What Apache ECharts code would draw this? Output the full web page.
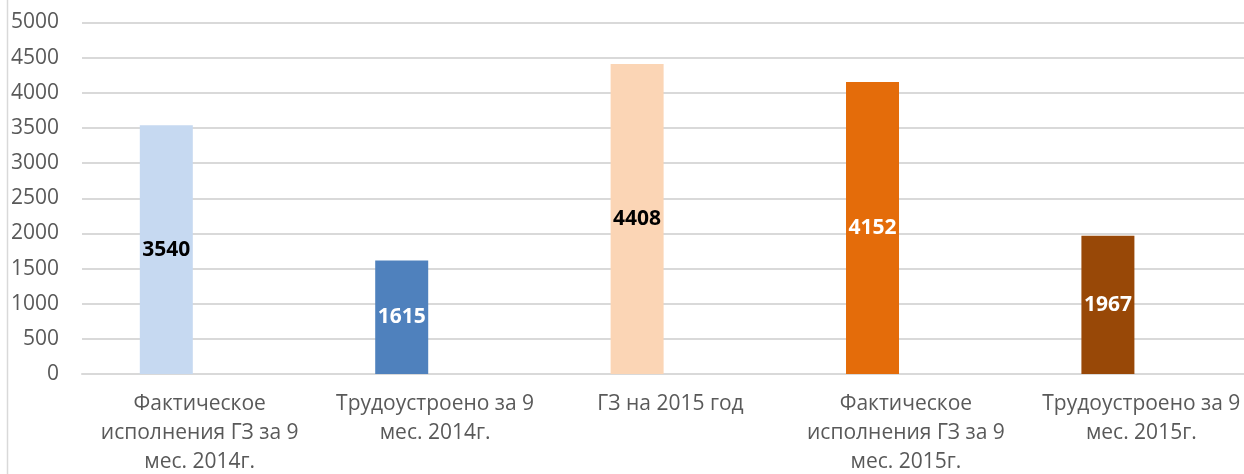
<!DOCTYPE html>
<html>
<head>
<meta charset="utf-8">
<script src="https://cdn.jsdelivr.net/npm/echarts@6/dist/echarts.min.js"></script>
<style>
html,body{margin:0;padding:0;background:#fff;}
#c{width:1244px;height:474px;}
</style>
</head>
<body>
<div id="c"></div>
<script>
const categories = [
  "Фактическое\nисполнения ГЗ за 9\nмес. 2014г.",
  "Трудоустроено за 9\nмес. 2014г.",
  "ГЗ на 2015 год",
  "Фактическое\nисполнения ГЗ за 9\nмес. 2015г.",
  "Трудоустроено за 9\nмес. 2015г."
];
const values = [3540, 1615, 4408, 4152, 1967];
const yTicks = { min: 0, max: 5000, interval: 500 };

const barColors = ["#C6D9F1", "#4F81BD", "#FBD5B5", "#E46C0A", "#984807"];
const labelColors = ["#000000", "#FFFFFF", "#000000", "#FFFFFF", "#FFFFFF"];
const FONT = "Open Sans";

const chart = echarts.init(document.getElementById('c'), null, { renderer: 'canvas' });
chart.setOption({
  animation: false,
  backgroundColor: '#FFFFFF',
  textStyle: { fontFamily: FONT },
  grid: { left: 82, top: 22.5, width: 1177, bottom: 100, containLabel: false, outerBoundsMode: 'none' },
  graphic: [{
    type: 'line',
    shape: { x1: 7.5, y1: 0, x2: 7.5, y2: 474 },
    style: { stroke: '#D9D9D9', lineWidth: 1.5 }
  }],
  xAxis: {
    type: 'category',
    data: categories,
    axisTick: { show: false },
    axisLine: { lineStyle: { color: '#D9D9D9', width: 2 } },
    axisLabel: { interval: 0, color: '#595959', fontSize: 21, lineHeight: 29, margin: 16, fontFamily: FONT }
  },
  yAxis: {
    type: 'value',
    min: yTicks.min, max: yTicks.max, interval: yTicks.interval,
    axisLine: { show: false },
    axisTick: { show: false },
    splitLine: { lineStyle: { color: '#D9D9D9', width: 2 } },
    axisLabel: { color: '#595959', fontSize: 21, margin: 23, fontFamily: FONT, formatter: v => String(v) }
  },
  series: [
    {
      type: 'bar',
      barWidth: 53,
      barGap: '26%',
      data: values.map((v, i) => ({
        value: v,
        itemStyle: { color: barColors[i] },
        label: { color: labelColors[i] }
      })),
      label: { show: true, position: 'inside', fontWeight: 'bold', fontSize: 21, fontFamily: FONT }
    },
    {
      type: 'bar',
      barWidth: 53,
      data: values.map(() => '-')
    }
  ]
});
</script>
</body>
</html>
